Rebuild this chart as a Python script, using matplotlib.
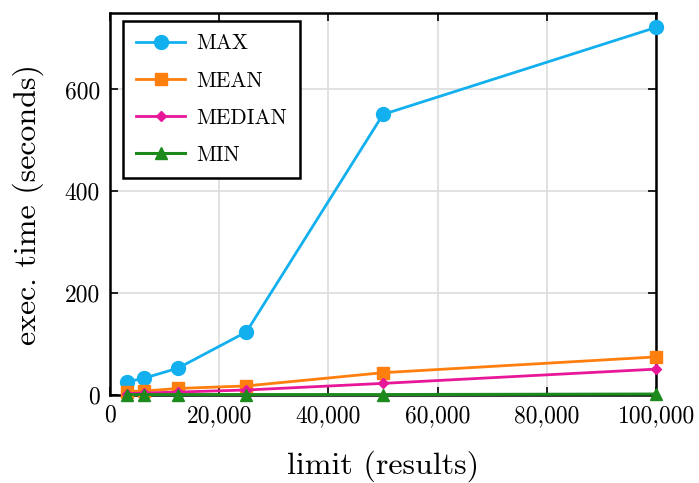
import matplotlib.pyplot as plt
from matplotlib.ticker import FuncFormatter

plt.rcParams['font.family'] = ['cmr10', 'DejaVu Serif']
plt.rcParams['mathtext.fontset'] = 'cm'
plt.rcParams['axes.unicode_minus'] = False

limits = [3125, 6250, 12500, 25000, 50000, 100000]
t_max = [26, 33, 53, 124, 551, 722]
t_mean = [7, 8, 13, 18, 44, 75]
t_median = [3, 4, 6, 10, 23, 51]
t_min = [1, 1, 1, 1, 1, 2]

labels = ["MAX", "MEAN", "MEDIAN", "MIN"]
colors = ["#12B0EE", "#FF7F0E", "#E8179A", "#1C8A1C"]

fig = plt.figure(figsize=(6.99, 4.83), dpi=100)
ax = fig.add_axes([0.157, 0.182, 0.782, 0.791])

ax.plot(limits, t_max, color=colors[0], marker='o', ms=10, lw=2, label=labels[0], clip_on=False, zorder=3)
ax.plot(limits, t_mean, color=colors[1], marker='s', ms=9, lw=2, label=labels[1], clip_on=False, zorder=3)
ax.plot(limits, t_median, color=colors[2], marker='D', ms=5.5, lw=2, label=labels[2], clip_on=False, zorder=3)
ax.plot(limits, t_min, color=colors[3], marker='^', ms=8, lw=2.2, label=labels[3], clip_on=False, zorder=3)

ax.set_xlim(0, 100000)
ax.set_ylim(0, 750)
ax.set_xticks([0, 20000, 40000, 60000, 80000, 100000])
ax.set_yticks([0, 200, 400, 600])
ax.xaxis.set_major_formatter(FuncFormatter(lambda v, p: "{:,}".format(int(v))))
ax.grid(True, color="#dddddd", lw=1.2)
ax.set_axisbelow(True)
ax.tick_params(direction='in', top=True, right=True, labelsize=17, length=6, width=1.2, pad=7)
for s in ax.spines.values():
    s.set_linewidth(1.8)

ax.set_xlabel("limit (results)", fontsize=23, labelpad=17)
ax.set_ylabel("exec. time (seconds)", fontsize=23, labelpad=15)

leg = ax.legend(loc='upper left', fontsize=15.5, frameon=True, fancybox=False,
                edgecolor='black', framealpha=1, borderpad=0.6, labelspacing=0.82,
                handlelength=2.3, handletextpad=0.5, borderaxespad=0,
                bbox_to_anchor=(0.024, 0.979))
leg.get_frame().set_linewidth(1.8)

fig.savefig("out.png", dpi=100)
